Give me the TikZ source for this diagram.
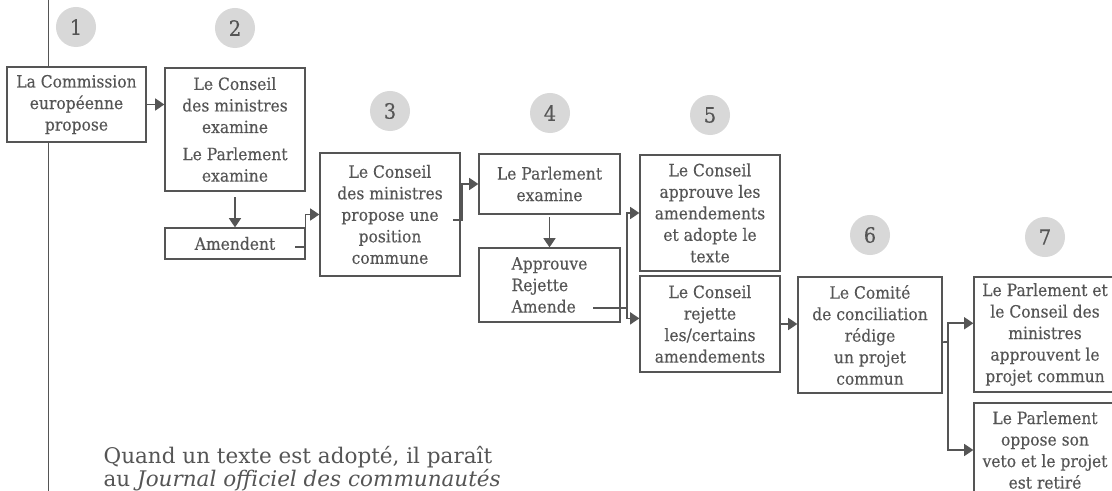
\documentclass[tikz,border=0pt]{standalone}
\usepackage{fontspec}
\setmainfont{DejaVu Serif}
\newfontfamily\boxfont[FakeStretch=0.92,FakeBold=0.3]{DejaVu Serif}
\usetikzlibrary{arrows.meta}
\definecolor{inkgray}{HTML}{555555}
\definecolor{dotgray}{HTML}{D8D8D8}

\begin{document}
\begin{tikzpicture}
[x=0.025cm,y=-0.025cm,line width=0.9pt,draw=inkgray,%
  box/.style={shape=rectangle,draw=inkgray,fill=white,text=inkgray,
    align=center,inner sep=0pt,minimum width=3.5cm},%
  num/.style={shape=circle,fill=dotgray,text=inkgray,minimum size=1cm,inner sep=0pt,
    font=\boxfont\fontsize{15pt}{17pt}\selectfont},%
  arr/.style={line width=1.1pt,-{Triangle[length=6.5pt,width=8.5pt]}}]
\boxfont\fontsize{12pt}{15.3pt}\selectfont
\useasboundingbox[fill=white] (0,0) rectangle (1112,491);
\draw[line width=0.7pt] (48,0) -- (48,491);
% step numbers
\node[num] (n1) at (76,27) {1};
\node[num] (n2) at (235,28) {2};
\node[num] (n3) at (390,111) {3};
\node[num] (n4) at (550,113) {4};
\node[num] (n5) at (710,115) {5};
\node[num] (n6) at (870,235) {6};
\node[num] (n7) at (1045,237) {7};
% boxes
\node[box,minimum width=3.475cm,minimum height=1.875cm] (commission) at (76.5,104.5)
  {La Commission\\européenne\\propose};
\node[box,minimum height=3.075cm] (examine) at (235,129.5)
  {Le Conseil\\des ministres\\examine\\[4pt]Le Parlement\\examine};
\node[box,minimum height=0.775cm] (amendent) at (235,243.5) {Amendent};
\node[box,minimum height=3.075cm] (position) at (390,214.5)
  {Le Conseil\\des ministres\\propose une\\position\\commune};
\node[box,minimum width=3.525cm,minimum height=1.5cm] (parlement) at (549.5,184)
  {Le Parlement\\examine};
\node[box,minimum width=3.525cm,minimum height=1.85cm,align=left] (vote) at (549.5,285)
  {Approuve\\Rejette\\Amende};
\node[box,minimum height=2.9cm] (adopte) at (710,213)
  {Le Conseil\\approuve les\\amendements\\et adopte le\\texte};
\node[box,minimum height=2.4cm] (rejette) at (710,324)
  {Le Conseil\\rejette\\les/certains\\amendements};
\node[box,minimum width=3.6cm,minimum height=2.9cm] (comite) at (870,335)
  {Le Comité\\de conciliation\\rédige\\un projet\\commun};
\node[box,minimum width=3.55cm,minimum height=2.875cm] (approuvent) at (1045,334.5)
  {Le Parlement et\\le Conseil des\\ministres\\approuvent le\\projet commun};
\node[box,minimum width=3.55cm,minimum height=2.35cm] (veto) at (1045,450)
  {Le Parlement\\oppose son\\veto et le projet\\est retiré};
% caption
\node[anchor=north west,align=left,inner sep=0pt,text=inkgray,
  font=\rmfamily\fontsize{15.3pt}{13.5pt}\selectfont] (caption) at (103,446)
  {Quand un texte est adopté, il paraît\\au \textit{Journal officiel des communautés}};
% connectors
\coordinate (amendent-out) at (295,247);
\coordinate (position-out) at (453,220);
\coordinate (vote-out) at (593,308);
\coordinate (vote-fork) at (627,308);
\coordinate (comite-fork) at (948,342);
\draw[arr] (commission.east) -- (commission.east -| examine.west);
\draw[arr] ([yshift=-4pt]examine.south) -- (amendent.north);
\draw[arr] (amendent-out) -- (amendent-out -| amendent.east) |- (position.west);
\draw[arr] (position-out) -- ++(9,0) |- (parlement.west);
\draw[arr] ([yshift=-2pt]parlement.south) -- (vote.north);
\draw[line width=1.1pt] (vote-out) -- (vote-fork);
\draw[arr] (vote-fork) |- (adopte.west);
\draw[arr] (vote-fork) |- ([yshift=4pt]rejette.west);
\draw[arr] (rejette.east) -- (rejette.east -| comite.west);
\draw[line width=1.1pt] ([yshift=-5pt]comite.east) -- (comite-fork);
\draw[arr] (comite-fork) |- ([yshift=8pt]approuvent.west);
\draw[arr] (comite-fork) |- (veto.west);
\end{tikzpicture}
\end{document}
